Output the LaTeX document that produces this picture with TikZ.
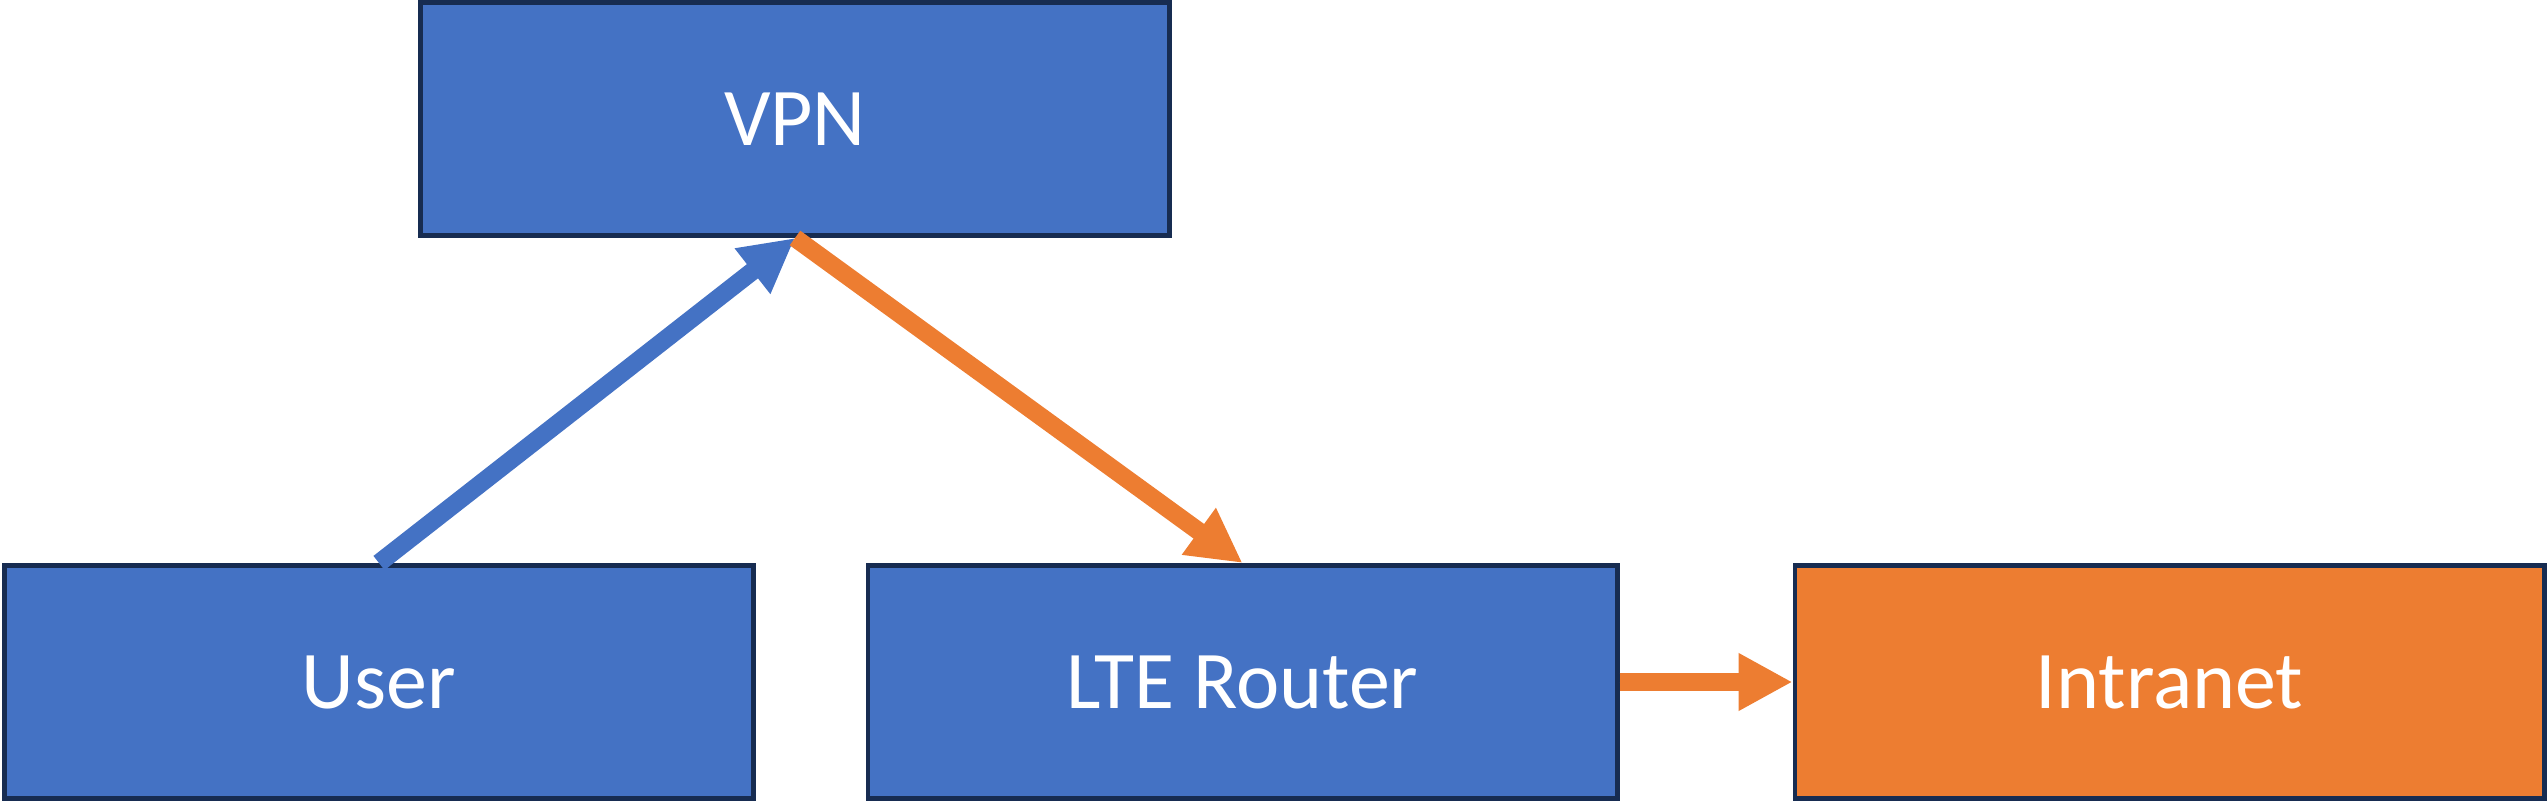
\documentclass[tikz,border=0pt]{standalone}
\usepackage{fontspec}
\setmainfont{Carlito}
\usetikzlibrary{arrows.meta}
\definecolor{boxblue}{HTML}{4472C4}
\definecolor{boxorange}{HTML}{ED7D31}
\definecolor{boxedge}{HTML}{172C51}
\tikzset{
  netbox/.style={draw=boxedge, line width=4.7pt, minimum width=749.3pt, minimum height=233.3pt,
    inner sep=0pt, text=white, font=\fontsize{82}{98}\selectfont},
  bluebox/.style={netbox, fill=boxblue},
  orangebox/.style={netbox, fill=boxorange},
  flow/.style={line width=18pt, -{Triangle[length=54pt,width=54pt]}}
}
\begin{document}
\begin{tikzpicture}[x=1pt,y=-1pt]
\useasboundingbox (0,0) rectangle (2548,802);
\node[bluebox] (vpn) at (795,119) {VPN};
\node[bluebox] (user) at (379,682) {User};
\node[bluebox] (lte) at (1242.5,682) {LTE Router};
\node[orangebox] (intranet) at (2169.5,682) {Intranet};
\draw[flow, draw=boxblue, fill=boxblue] (user.north) -- (vpn.south);
\draw[flow, draw=boxorange, fill=boxorange] (vpn.south) -- (lte.north);
\draw[flow, draw=boxorange, fill=boxorange] (lte.east) -- (intranet.west);
\end{tikzpicture}
\end{document}
